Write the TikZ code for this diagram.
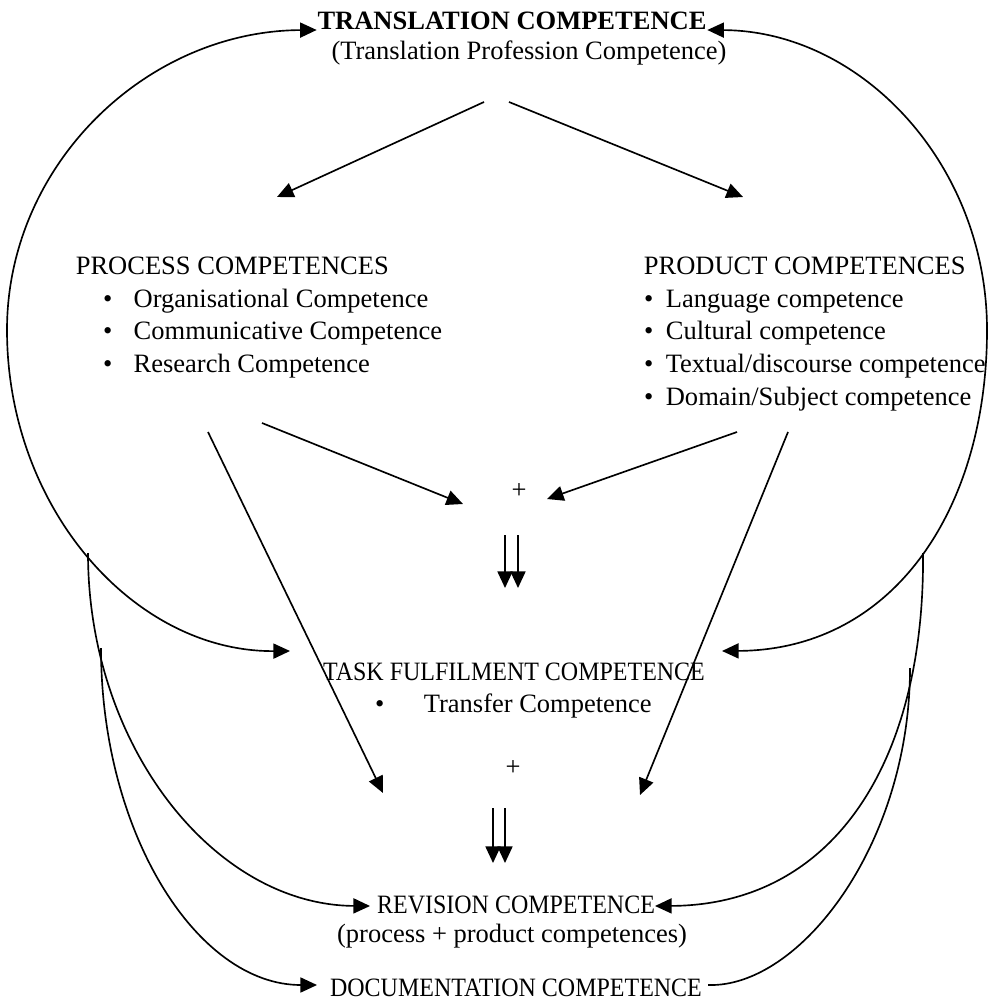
\documentclass[tikz,border=0pt]{standalone}
\usepackage{fontspec}
\setmainfont{Liberation Serif}
\usetikzlibrary{arrows.meta}
\newcommand{\tightcaps}[1]{\scalebox{0.905}[1]{#1}}

\begin{document}
\begin{tikzpicture}[x=0.4528pt, y=-0.4528pt, line width=0.75pt,
  >={Triangle[length=7.5pt,width=6.8pt]}]
\tikzstyle{txt}=[inner sep=0pt, font=\fontsize{12}{14}\selectfont]
\tikzstyle{bld}=[inner sep=0pt, font=\fontsize{12}{14}\selectfont\bfseries]
\useasboundingbox (0,0) rectangle (993,1000);

	\node[bld, anchor=base] (trans) at (512,30) {TRANSLATION COMPETENCE};
	\node[txt, anchor=base] (transsub) at (529,60) {(Translation Profession Competence)};

	\node[txt, anchor=base west] (proc) at (75,275) {PROCESS COMPETENCES};
	\node[txt, anchor=base west] (prod) at (643,275) {PRODUCT COMPETENCES};
\foreach \t [count=\i] in {Organisational Competence, Communicative Competence, Research Competence}{
	\node[txt, anchor=base west] (proc\i) at (102.4,275+32.5*\i) {\textbullet\hspace{9.6pt}\t};}
\foreach \t [count=\i] in {Language competence, Cultural competence, Textual/discourse competence, Domain/Subject competence}{
	\node[txt, anchor=base west] (prod\i) at (643.4,275+32.5*\i) {\textbullet\hspace{5.6pt}\t};}

	\node[txt] (plusA) at (519,491) {+};
	\node[txt, anchor=base] (task) at (514,680) {\tightcaps{TASK FULFILMENT COMPETENCE}};
	\node[txt, anchor=base west] (transfer) at (374.4,712) {\textbullet\hspace{17.8pt}Transfer Competence};
	\node[txt] (plusB) at (513,768) {+};
	\node[txt, anchor=base] (rev) at (516,913) {\tightcaps{REVISION COMPETENCE}};
	\node[txt, anchor=base] (revsub) at (512,942) {(process + product competences)};
	\node[txt, anchor=base] (doc) at (516,996) {\tightcaps{DOCUMENTATION COMPETENCE}};

% free ends
	\coordinate (splitL) at (484,102);  \coordinate (splitR) at (509,102);
	\coordinate (procIn) at (277,197);  \coordinate (prodIn) at (743,197);
	\coordinate (procOutA) at (262,423); \coordinate (prodOutA) at (737,432);
	\coordinate (plusInL) at (463,504); \coordinate (plusInR) at (547,499);
	\coordinate (procOutB) at (208,432); \coordinate (prodOutB) at (788,432);
	\coordinate (revInL) at (383,793);  \coordinate (revInR) at (640,795);
	\coordinate (taskL) at (290,651);   \coordinate (taskR) at (722,651);
	\coordinate (revL) at (370,906);    \coordinate (revR) at (655,906);
	\coordinate (docL) at (317,985);    \coordinate (docR) at (708,985);
	\coordinate (arcLA) at (88,553);    \coordinate (arcLB) at (101,648);
	\coordinate (arcRA) at (923,553);   \coordinate (arcRB) at (910,668);

\draw[->] (splitL) -- (procIn);
\draw[->] (splitR) -- (prodIn);
\draw[->] (procOutA) -- (plusInL);
\draw[->] (prodOutA) -- (plusInR);
\draw[->] (procOutB) -- (revInL);
\draw[->] (prodOutB) -- (revInR);

% double arrows
\foreach \x in {505,518}{\draw[->] (\x,535) -- (\x,588);}
\foreach \x in {493,505}{\draw[->] (\x,808) -- (\x,863);}

% big loops
\draw[<->] (taskL) .. controls (134,652) and (7,508) .. (7,330)
	.. controls (7,165) and (146,31) .. (trans.base west);
\draw[<->] (taskR) .. controls (895,650) and (987,507) .. (987,330)
	.. controls (987,165) and (862,31) .. (trans.base east);
\draw[->] (arcLA) .. controls (88,747) and (215,905) .. (revL);
\draw[->] (arcLB) .. controls (101,833) and (197,985) .. (docL);
\draw[->] (arcRA) .. controls (925,760) and (835,905) .. (revR);
\draw (arcRB) .. controls (910,844) and (800,988) .. (docR);

\end{tikzpicture}
\end{document}
